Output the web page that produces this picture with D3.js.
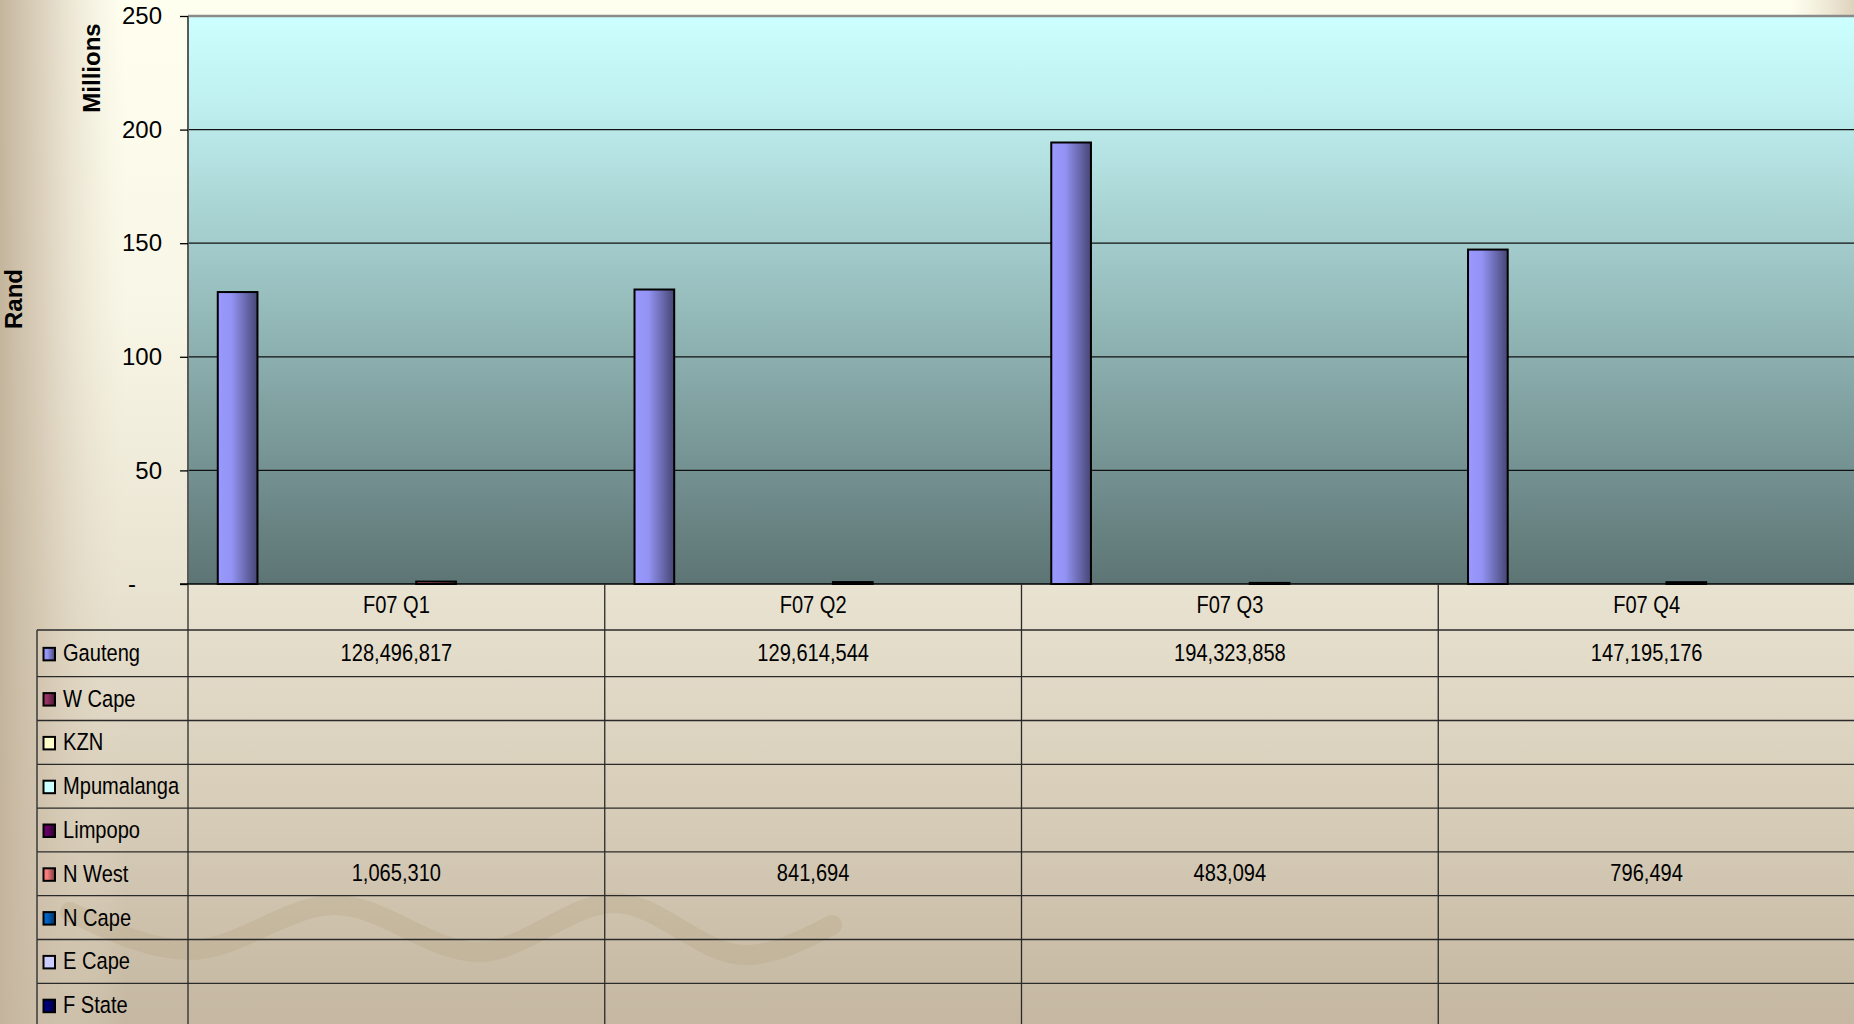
<!DOCTYPE html>
<html>
<head>
<meta charset="utf-8">
<script src="https://cdn.jsdelivr.net/npm/d3@7"></script>
<style>
  html, body { margin: 0; padding: 0; background: #fffff0; }
  svg { display: block; }
  .axis text { font-family: "Liberation Sans", Arial, sans-serif; font-size: 24px; fill: #000; }
  .tbl { font-family: "Liberation Sans", Arial, sans-serif; font-size: 24.5px; fill: #000; }
  .title { font-family: "Liberation Sans", Arial, sans-serif; font-size: 24px; font-weight: bold; fill: #000; }
</style>
</head>
<body>
<svg id="chart" width="1854" height="1024"></svg>
<script>
// ---- data ----
const categories = ["F07 Q1", "F07 Q2", "F07 Q3", "F07 Q4"];
const seriesNames = ["Gauteng", "W Cape", "KZN", "Mpumalanga", "Limpopo", "N West", "N Cape", "E Cape", "F State"];
const seriesColors = ["#9999FF", "#993366", "#FFFFCC", "#CCFFFF", "#660066", "#FF8080", "#0066CC", "#CCCCFF", "#000080"];
const gauteng    = [128496817, 129614544, 194323858, 147195176];
const wCape      = [null, null, null, null];
const kzn        = [null, null, null, null];
const mpumalanga = [null, null, null, null];
const limpopo    = [null, null, null, null];
const nWest      = [1065310, 841694, 483094, 796494];
const nCape      = [null, null, null, null];
const eCape      = [null, null, null, null];
const fState     = [null, null, null, null];
const seriesValues = [gauteng, wCape, kzn, mpumalanga, limpopo, nWest, nCape, eCape, fState];
const yTickValues = [0, 50e6, 100e6, 150e6, 200e6, 250e6];
const yTickLabels = ["-", "50", "100", "150", "200", "250"];
const yAxisTitle = "Rand";
const yUnitsTitle = "Millions";

// ---- layout ----
const W = 1854, H = 1024;
const plot = { left: 188, top: 16, right: 1855, bottom: 584 };
const table = { left: 37, headerH: 46, firstRowH: 46.7, rowH: 43.8 };
const narrow = 0.82; // horizontal squeeze for the condensed table face

const svg = d3.select("#chart");
const defs = svg.append("defs");

// background gradients
const bgV = defs.append("linearGradient").attr("id", "bgV").attr("x1", 0).attr("y1", 0).attr("x2", 0).attr("y2", 1);
[[0, "#fffff0"], [0.3, "#f8f6e6"], [0.57, "#e9e3d1"], [1, "#c5b7a1"]].forEach(s =>
  bgV.append("stop").attr("offset", s[0]).attr("stop-color", s[1]));
const bgL = defs.append("linearGradient").attr("id", "bgL").attr("x1", 0).attr("y1", 0).attr("x2", 1).attr("y2", 0);
[[0, "#c4b49c", 1], [0.35, "#cfc1ab", 0.7], [1, "#e8e0cc", 0]].forEach(s =>
  bgL.append("stop").attr("offset", s[0]).attr("stop-color", s[1]).attr("stop-opacity", s[2]));
const bgR = defs.append("linearGradient").attr("id", "bgR").attr("x1", 0).attr("y1", 0).attr("x2", 1).attr("y2", 0);
[[0, "#e8e0cc", 0], [1, "#ddd2bc", 1]].forEach(s =>
  bgR.append("stop").attr("offset", s[0]).attr("stop-color", s[1]).attr("stop-opacity", s[2]));
const plotGrad = defs.append("linearGradient").attr("id", "plotGrad").attr("x1", 0).attr("y1", 0).attr("x2", 0).attr("y2", 1);
[[0, "#ccffff"], [0.15, "#c0f0f0"], [1, "#5d7474"]].forEach(s =>
  plotGrad.append("stop").attr("offset", s[0]).attr("stop-color", s[1]));

// per-series fill gradients (light left edge, shaded right edge)
seriesColors.forEach((c, i) => {
  const g = defs.append("linearGradient").attr("id", "sg" + i)
    .attr("x1", 0).attr("y1", 0).attr("x2", 1).attr("y2", 0);
  const pale = d3.hsl(c).l > 0.85;
  const mid = pale ? c : d3.color(c).darker(0.12).formatHex();
  const end = pale ? c : d3.color(c).darker(2.2).formatHex();
  g.append("stop").attr("offset", 0).attr("stop-color", c);
  g.append("stop").attr("offset", 0.35).attr("stop-color", mid);
  g.append("stop").attr("offset", 1).attr("stop-color", end);
});

svg.append("rect").attr("width", W).attr("height", H).attr("fill", "url(#bgV)");
svg.append("rect").attr("width", 125).attr("height", H).attr("fill", "url(#bgL)");
svg.append("rect").attr("x", 1790).attr("width", 64).attr("height", plot.top).attr("fill", "url(#bgR)");

// decorative wave in the lower background
const waveDecor = [[70, 912], [190, 950], [335, 905], [478, 952], [615, 903], [745, 955], [832, 925]];
svg.append("path")
  .attr("d", d3.line().curve(d3.curveMonotoneX)(waveDecor))
  .attr("fill", "none").attr("stroke", "#a8946f").attr("stroke-opacity", 0.2)
  .attr("stroke-width", 20).attr("stroke-linecap", "round");

// ---- scales ----
const x0 = d3.scaleBand().domain(categories).range([plot.left, plot.right]).paddingInner(0).paddingOuter(0);
const x1 = d3.scaleBand().domain(seriesNames).range([0, x0.bandwidth()]).paddingInner(0).paddingOuter(0.75);
const y = d3.scaleLinear().domain([0, 250e6]).range([plot.bottom, plot.top]);

// plot area
svg.append("rect")
  .attr("x", plot.left).attr("y", plot.top)
  .attr("width", plot.right - plot.left).attr("height", plot.bottom - plot.top)
  .attr("fill", "url(#plotGrad)");

// gridlines
svg.append("g").selectAll("line")
  .data(yTickValues.filter(v => v > 0 && v < 250e6))
  .join("line")
  .attr("x1", plot.left).attr("x2", plot.right)
  .attr("y1", d => y(d)).attr("y2", d => y(d))
  .attr("stroke", "#111").attr("stroke-width", 1.3);

// plot border (top and left)
svg.append("line").attr("x1", plot.left).attr("x2", plot.right).attr("y1", plot.top).attr("y2", plot.top)
  .attr("stroke", "#8a8a8a").attr("stroke-width", 2.5);
svg.append("line").attr("x1", plot.left).attr("x2", plot.left).attr("y1", plot.top).attr("y2", plot.bottom)
  .attr("stroke", "#5a5a5a").attr("stroke-width", 2);

// bars
const groups = svg.append("g").selectAll("g")
  .data(categories)
  .join("g")
  .attr("transform", d => `translate(${x0(d)},0)`);
groups.selectAll("rect")
  .data((cat, ci) => seriesNames.map((s, si) => ({ s, si, v: seriesValues[si][ci] })).filter(d => d.v != null))
  .join("rect")
  .attr("x", d => x1(d.s))
  .attr("width", x1.bandwidth())
  .attr("y", d => y(d.v))
  .attr("height", d => y(0) - y(d.v))
  .attr("fill", d => `url(#sg${d.si})`)
  .attr("stroke", "#000").attr("stroke-width", 2);

// y axis
const yAxis = d3.axisLeft(y)
  .tickValues(yTickValues)
  .tickFormat((d, i) => yTickLabels[i])
  .tickSize(8).tickPadding(18);
const ga = svg.append("g").attr("class", "axis").attr("transform", `translate(${plot.left},0)`).call(yAxis);
ga.select(".domain").remove();
ga.selectAll(".tick line").attr("stroke", "#000").attr("stroke-width", 1.3);
ga.selectAll(".tick text").filter(d => d === 0).attr("x", -52);

// category axis line
svg.append("line").attr("x1", plot.left - 8).attr("x2", plot.right).attr("y1", plot.bottom).attr("y2", plot.bottom)
  .attr("stroke", "#000").attr("stroke-width", 1.5);

// ---- data table ----
const rowTops = [plot.bottom + table.headerH];
seriesNames.forEach((s, i) => rowTops.push(rowTops[i] + (i === 0 ? table.firstRowH : table.rowH)));
const tg = svg.append("g");

// horizontal rules
tg.selectAll("line.h")
  .data(rowTops)
  .join("line")
  .attr("class", "h")
  .attr("x1", table.left).attr("x2", W)
  .attr("y1", d => d).attr("y2", d => d)
  .attr("stroke", "#2a2a2a").attr("stroke-width", 1.3);

// vertical rules
const vx = [plot.left].concat(categories.slice(1).map(c => x0(c)));
tg.selectAll("line.v")
  .data(vx)
  .join("line")
  .attr("class", "v")
  .attr("x1", d => d).attr("x2", d => d)
  .attr("y1", plot.bottom).attr("y2", H)
  .attr("stroke", "#2a2a2a").attr("stroke-width", 1.3);
tg.append("line").attr("x1", table.left).attr("x2", table.left)
  .attr("y1", rowTops[0]).attr("y2", H).attr("stroke", "#3a3a3a").attr("stroke-width", 1.5);

// condensed text placed at (x, y)
const place = (sel, fx, fy) => sel.attr("transform", (d, i) => `translate(${fx(d, i)},${fy(d, i)}) scale(${narrow},1)`);

// category headers
place(tg.selectAll("text.cat")
  .data(categories)
  .join("text")
  .attr("class", "tbl cat")
  .attr("text-anchor", "middle")
  .text(d => d),
  d => x0(d) + x0.bandwidth() / 2, () => plot.bottom + table.headerH / 2 + 6);

// legend keys and row labels
const rowMid = i => (rowTops[i] + rowTops[i + 1]) / 2;
const keys = tg.selectAll("g.key")
  .data(seriesNames)
  .join("g").attr("class", "key");
keys.append("rect")
  .attr("x", 43.5).attr("y", (d, i) => rowMid(i) - 5.5)
  .attr("width", 11.5).attr("height", 12.5)
  .attr("fill", (d, i) => `url(#sg${i})`)
  .attr("stroke", "#000").attr("stroke-width", 2);
place(keys.append("text")
  .attr("class", "tbl")
  .text(d => d),
  () => 63, (d, i) => rowMid(i) + 8);

// cell values
const fmt = d3.format(",");
seriesNames.forEach((s, si) => {
  place(tg.selectAll(null)
    .data(categories.map((c, ci) => ({ c, v: seriesValues[si][ci] })).filter(d => d.v != null))
    .join("text")
    .attr("class", "tbl")
    .attr("text-anchor", "middle")
    .text(d => fmt(d.v)),
    d => x0(d.c) + x0.bandwidth() / 2, () => rowMid(si) + 7.5);
});

// axis titles
svg.append("text").attr("class", "title")
  .attr("transform", "translate(22,299) rotate(-90)")
  .attr("text-anchor", "middle").text(yAxisTitle);
svg.append("text").attr("class", "title")
  .attr("transform", "translate(100,68) rotate(-90)")
  .attr("text-anchor", "middle").text(yUnitsTitle);
</script>
</body>
</html>
